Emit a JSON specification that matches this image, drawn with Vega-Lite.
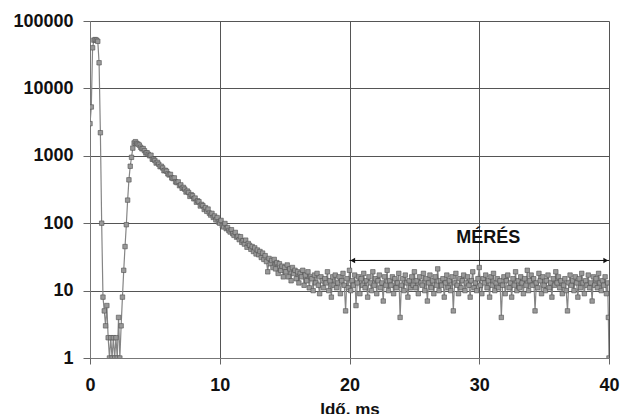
{
  "$schema": "https://vega.github.io/schema/vega-lite/v6.json",
  "width": 519,
  "height": 337,
  "autosize": {"type": "none"},
  "padding": {"left": 90, "top": 21, "right": 12, "bottom": 56},
  "background": "white",
  "config": {
    "view": {"stroke": null},
    "font": "Liberation Sans",
    "axis": {
      "labelFont": "Liberation Sans", "labelFontWeight": "bold", "labelFontSize": 18, "labelColor": "#111",
      "titleFont": "Liberation Sans", "titleFontWeight": "bold", "titleFontSize": 17, "titleColor": "#111",
      "gridColor": "#555", "gridWidth": 1, "gridOpacity": 1,
      "domainColor": "#777", "tickColor": "#666", "tickWidth": 1
    }
  },
  "encoding": {
    "x": {
      "field": "t", "type": "quantitative",
      "scale": {"domain": [0, 40], "nice": false, "zero": false},
      "axis": {"values": [0, 10, 20, 30, 40], "title": "Idő, ms", "tickSize": 6, "labelPadding": 12, "titlePadding": 7, "grid": true, "labelFlush": false}
    },
    "y": {
      "field": "c", "type": "quantitative",
      "scale": {"type": "log", "domain": [1, 100000], "nice": false},
      "axis": {"values": [1, 10, 100, 1000, 10000, 100000], "format": "d", "title": null, "tickSize": 7, "labelPadding": 10, "grid": true}
    }
  },
  "layer": [
    {
      "data": {"values": [
        {"t":0,"c":3000},{"t":0.1,"c":5300},{"t":0.2,"c":40000},{"t":0.3,"c":52000},{"t":0.4,"c":53000},{"t":0.5,"c":52000},{"t":0.6,"c":50000},{"t":0.7,"c":24000},{"t":0.8,"c":2200},{"t":0.9,"c":100},
        {"t":1.0,"c":8},{"t":1.1,"c":5},{"t":1.2,"c":3},{"t":1.3,"c":6},{"t":1.4,"c":2},{"t":1.5,"c":1},{"t":1.6,"c":2},{"t":1.7,"c":1},{"t":1.8,"c":2},{"t":1.9,"c":1},
        {"t":2.0,"c":2},{"t":2.1,"c":1},{"t":2.2,"c":4},{"t":2.3,"c":1},{"t":2.4,"c":3},{"t":2.5,"c":8},{"t":2.6,"c":20},{"t":2.7,"c":45},{"t":2.8,"c":95},{"t":2.9,"c":220},
        {"t":3.0,"c":440},{"t":3.1,"c":700},{"t":3.2,"c":950},{"t":3.3,"c":1300},{"t":3.4,"c":1550},{"t":3.5,"c":1620},{"t":3.6,"c":1530},{"t":3.7,"c":1490},{"t":3.8,"c":1440},{"t":3.9,"c":1340},
        {"t":4.0,"c":1270},{"t":4.1,"c":1280},{"t":4.2,"c":1190},{"t":4.3,"c":1100},{"t":4.4,"c":1110},{"t":4.5,"c":1050},{"t":4.6,"c":1000},{"t":4.7,"c":1020},{"t":4.8,"c":890},{"t":4.9,"c":890},
        {"t":5.0,"c":850},{"t":5.1,"c":780},{"t":5.2,"c":800},{"t":5.3,"c":750},{"t":5.4,"c":690},{"t":5.5,"c":700},{"t":5.6,"c":660},{"t":5.7,"c":600},{"t":5.8,"c":610},{"t":5.9,"c":590},
        {"t":6.0,"c":540},{"t":6.1,"c":520},{"t":6.2,"c":530},{"t":6.3,"c":470},{"t":6.4,"c":460},{"t":6.5,"c":470},{"t":6.6,"c":410},{"t":6.7,"c":400},{"t":6.8,"c":410},{"t":6.9,"c":360},
        {"t":7.0,"c":370},{"t":7.1,"c":330},{"t":7.2,"c":340},{"t":7.3,"c":320},{"t":7.4,"c":290},{"t":7.5,"c":300},{"t":7.6,"c":285},{"t":7.7,"c":250},{"t":7.8,"c":265},{"t":7.9,"c":255},
        {"t":8.0,"c":230},{"t":8.1,"c":236},{"t":8.2,"c":205},{"t":8.3,"c":215},{"t":8.4,"c":208},{"t":8.5,"c":180},{"t":8.6,"c":190},{"t":8.7,"c":182},{"t":8.8,"c":160},{"t":8.9,"c":170},
        {"t":9.0,"c":150},{"t":9.1,"c":162},{"t":9.2,"c":141},{"t":9.3,"c":132},{"t":9.4,"c":140},{"t":9.5,"c":122},{"t":9.6,"c":128},{"t":9.7,"c":112},{"t":9.8,"c":121},{"t":9.9,"c":104},
        {"t":10.0,"c":100},{"t":10.1,"c":110},{"t":10.2,"c":92},{"t":10.3,"c":88},{"t":10.4,"c":99},{"t":10.5,"c":83},{"t":10.6,"c":86},{"t":10.7,"c":78},{"t":10.8,"c":74},{"t":10.9,"c":80},
        {"t":11.0,"c":70},{"t":11.1,"c":66},{"t":11.2,"c":73},{"t":11.3,"c":62},{"t":11.4,"c":64},{"t":11.5,"c":57},{"t":11.6,"c":63},{"t":11.7,"c":52},{"t":11.8,"c":55},{"t":11.9,"c":49},
        {"t":12.0,"c":56},{"t":12.1,"c":44},{"t":12.2,"c":50},{"t":12.3,"c":47},{"t":12.4,"c":41},{"t":12.5,"c":45},{"t":12.6,"c":38},{"t":12.7,"c":43},{"t":12.8,"c":35},{"t":12.9,"c":40},
        {"t":13.0,"c":34},{"t":13.1,"c":38},{"t":13.2,"c":31},{"t":13.3,"c":36},{"t":13.4,"c":29},{"t":13.5,"c":33},{"t":13.6,"c":27},{"t":13.7,"c":19},{"t":13.8,"c":30},{"t":13.9,"c":25},
        {"t":14.0,"c":28},{"t":14.1,"c":22},{"t":14.2,"c":29},{"t":14.3,"c":21},{"t":14.4,"c":26},{"t":14.5,"c":18},{"t":14.6,"c":25},{"t":14.7,"c":20},{"t":14.8,"c":23},{"t":14.9,"c":16},
        {"t":15.0,"c":22},{"t":15.1,"c":19},{"t":15.2,"c":24},{"t":15.3,"c":16},{"t":15.4,"c":21},{"t":15.5,"c":14},{"t":15.6,"c":22},{"t":15.7,"c":18},{"t":15.8,"c":20},{"t":15.9,"c":15},
        {"t":16.0,"c":19},{"t":16.1,"c":13},{"t":16.2,"c":18},{"t":16.3,"c":16},{"t":16.4,"c":20},{"t":16.5,"c":12},{"t":16.6,"c":17},{"t":16.7,"c":14},{"t":16.8,"c":19},{"t":16.9,"c":11},
        {"t":17.0,"c":16},{"t":17.1,"c":15},{"t":17.2,"c":10},{"t":17.3,"c":17},{"t":17.4,"c":13},{"t":17.5,"c":18},{"t":17.6,"c":12},{"t":17.7,"c":9},{"t":17.8,"c":16},{"t":17.9,"c":14},
        {"t":18.0,"c":11},{"t":18.1,"c":15},{"t":18.2,"c":13},{"t":18.3,"c":19},{"t":18.4,"c":10},{"t":18.5,"c":14},{"t":18.6,"c":8},{"t":18.7,"c":16},{"t":18.8,"c":12},{"t":18.9,"c":17},
        {"t":19.0,"c":11},{"t":19.1,"c":13},{"t":19.2,"c":16},{"t":19.3,"c":9},{"t":19.4,"c":14},{"t":19.5,"c":18},{"t":19.6,"c":12},{"t":19.7,"c":5},{"t":19.8,"c":15},{"t":19.9,"c":11},
        {"t":20.0,"c":20},{"t":20.1,"c":10},{"t":20.2,"c":14},{"t":20.3,"c":12},{"t":20.4,"c":17},{"t":20.5,"c":6},{"t":20.6,"c":13},{"t":20.7,"c":16},{"t":20.8,"c":9},{"t":20.9,"c":15},
        {"t":21.0,"c":12},{"t":21.1,"c":18},{"t":21.2,"c":11},{"t":21.3,"c":14},{"t":21.4,"c":8},{"t":21.5,"c":16},{"t":21.6,"c":13},{"t":21.7,"c":10},{"t":21.8,"c":19},{"t":21.9,"c":12},
        {"t":22.0,"c":15},{"t":22.1,"c":9},{"t":22.2,"c":14},{"t":22.3,"c":17},{"t":22.4,"c":11},{"t":22.5,"c":13},{"t":22.6,"c":7},{"t":22.7,"c":16},{"t":22.8,"c":12},{"t":22.9,"c":20},
        {"t":23.0,"c":10},{"t":23.1,"c":14},{"t":23.2,"c":12},{"t":23.3,"c":16},{"t":23.4,"c":9},{"t":23.5,"c":15},{"t":23.6,"c":11},{"t":23.7,"c":13},{"t":23.8,"c":18},{"t":23.9,"c":4},
        {"t":24.0,"c":12},{"t":24.1,"c":15},{"t":24.2,"c":10},{"t":24.3,"c":17},{"t":24.4,"c":13},{"t":24.5,"c":8},{"t":24.6,"c":14},{"t":24.7,"c":11},{"t":24.8,"c":16},{"t":24.9,"c":12},
        {"t":25.0,"c":19},{"t":25.1,"c":11},{"t":25.2,"c":14},{"t":25.3,"c":9},{"t":25.4,"c":16},{"t":25.5,"c":13},{"t":25.6,"c":12},{"t":25.7,"c":18},{"t":25.8,"c":10},{"t":25.9,"c":15},
        {"t":26.0,"c":7},{"t":26.1,"c":13},{"t":26.2,"c":17},{"t":26.3,"c":11},{"t":26.4,"c":14},{"t":26.5,"c":9},{"t":26.6,"c":16},{"t":26.7,"c":12},{"t":26.8,"c":21},{"t":26.9,"c":10},
        {"t":27.0,"c":14},{"t":27.1,"c":12},{"t":27.2,"c":15},{"t":27.3,"c":8},{"t":27.4,"c":13},{"t":27.5,"c":17},{"t":27.6,"c":11},{"t":27.7,"c":14},{"t":27.8,"c":10},{"t":27.9,"c":16},
        {"t":28.0,"c":5},{"t":28.1,"c":13},{"t":28.2,"c":18},{"t":28.3,"c":12},{"t":28.4,"c":9},{"t":28.5,"c":15},{"t":28.6,"c":11},{"t":28.7,"c":14},{"t":28.8,"c":17},{"t":28.9,"c":10},
        {"t":29.0,"c":13},{"t":29.1,"c":16},{"t":29.2,"c":12},{"t":29.3,"c":8},{"t":29.4,"c":14},{"t":29.5,"c":19},{"t":29.6,"c":11},{"t":29.7,"c":13},{"t":29.8,"c":10},{"t":29.9,"c":15},
        {"t":30.0,"c":22},{"t":30.1,"c":12},{"t":30.2,"c":9},{"t":30.3,"c":15},{"t":30.4,"c":13},{"t":30.5,"c":17},{"t":30.6,"c":11},{"t":30.7,"c":14},{"t":30.8,"c":8},{"t":30.9,"c":16},
        {"t":31.0,"c":12},{"t":31.1,"c":18},{"t":31.2,"c":10},{"t":31.3,"c":13},{"t":31.4,"c":15},{"t":31.5,"c":11},{"t":31.6,"c":14},{"t":31.7,"c":4},{"t":31.8,"c":12},{"t":31.9,"c":16},
        {"t":32.0,"c":9},{"t":32.1,"c":14},{"t":32.2,"c":17},{"t":32.3,"c":11},{"t":32.4,"c":13},{"t":32.5,"c":8},{"t":32.6,"c":15},{"t":32.7,"c":12},{"t":32.8,"c":19},{"t":32.9,"c":10},
        {"t":33.0,"c":14},{"t":33.1,"c":11},{"t":33.2,"c":16},{"t":33.3,"c":13},{"t":33.4,"c":9},{"t":33.5,"c":15},{"t":33.6,"c":12},{"t":33.7,"c":20},{"t":33.8,"c":10},{"t":33.9,"c":14},
        {"t":34.0,"c":17},{"t":34.1,"c":12},{"t":34.2,"c":15},{"t":34.3,"c":5},{"t":34.4,"c":13},{"t":34.5,"c":11},{"t":34.6,"c":18},{"t":34.7,"c":14},{"t":34.8,"c":9},{"t":34.9,"c":16},
        {"t":35.0,"c":12},{"t":35.1,"c":10},{"t":35.2,"c":14},{"t":35.3,"c":17},{"t":35.4,"c":11},{"t":35.5,"c":13},{"t":35.6,"c":8},{"t":35.7,"c":15},{"t":35.8,"c":12},{"t":35.9,"c":19},
        {"t":36.0,"c":13},{"t":36.1,"c":16},{"t":36.2,"c":11},{"t":36.3,"c":14},{"t":36.4,"c":9},{"t":36.5,"c":12},{"t":36.6,"c":15},{"t":36.7,"c":10},{"t":36.8,"c":5},{"t":36.9,"c":13},
        {"t":37.0,"c":17},{"t":37.1,"c":12},{"t":37.2,"c":14},{"t":37.3,"c":10},{"t":37.4,"c":16},{"t":37.5,"c":13},{"t":37.6,"c":8},{"t":37.7,"c":15},{"t":37.8,"c":11},{"t":37.9,"c":18},
        {"t":38.0,"c":13},{"t":38.1,"c":9},{"t":38.2,"c":14},{"t":38.3,"c":12},{"t":38.4,"c":17},{"t":38.5,"c":11},{"t":38.6,"c":13},{"t":38.7,"c":7},{"t":38.8,"c":16},{"t":38.9,"c":12},
        {"t":39.0,"c":15},{"t":39.1,"c":11},{"t":39.2,"c":18},{"t":39.3,"c":13},{"t":39.4,"c":10},{"t":39.5,"c":14},{"t":39.6,"c":12},{"t":39.7,"c":16},{"t":39.8,"c":9},{"t":39.9,"c":13},
        {"t":39.95,"c":4},{"t":40.0,"c":1}
      ]},
      "mark": {
        "type": "line", "color": "#858585", "strokeWidth": 1.2, "clip": true,
        "point": {"shape": "square", "size": 20, "filled": true, "fill": "#999999", "stroke": "#505050", "strokeWidth": 0.6}
      }
    },
    {
      "data": {"values": [{"t": 20, "t2": 40, "c": 28}]},
      "mark": {"type": "rule", "color": "#111", "strokeWidth": 1},
      "encoding": {"x2": {"field": "t2"}}
    },
    {
      "data": {"values": [{"t": 20.25, "c": 28, "s": "triangle-left"}, {"t": 39.75, "c": 28, "s": "triangle-right"}]},
      "mark": {"type": "point", "filled": true, "color": "#111", "size": 30, "opacity": 1},
      "encoding": {"shape": {"field": "s", "type": "nominal", "scale": null, "legend": null}}
    },
    {
      "data": {"values": [{"t": 30.7, "c": 60, "label": "MÉRÉS"}]},
      "mark": {"type": "text", "font": "Liberation Sans", "fontWeight": "bold", "fontSize": 18, "color": "#111", "align": "center", "baseline": "middle"},
      "encoding": {"text": {"field": "label"}}
    }
  ]
}
